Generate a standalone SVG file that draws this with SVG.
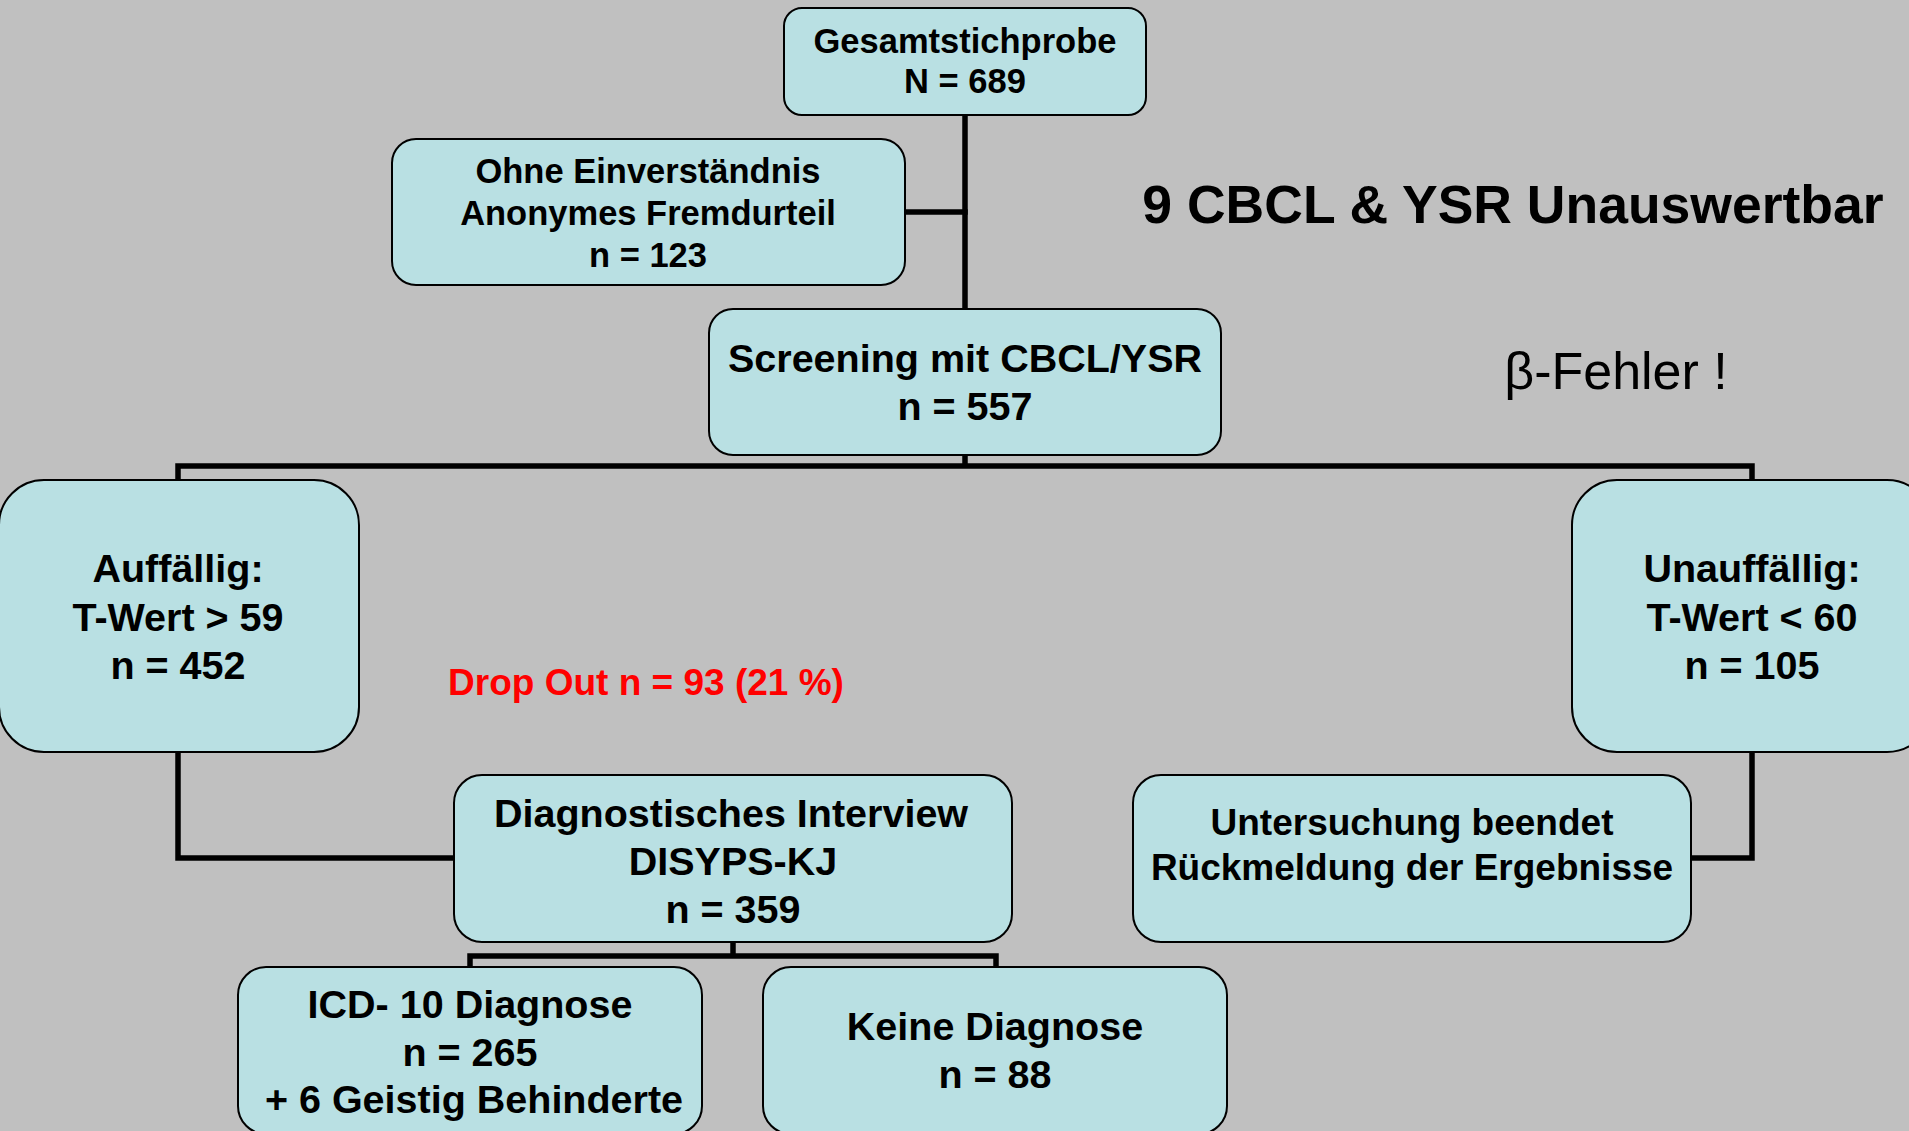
<svg xmlns="http://www.w3.org/2000/svg" width="1909" height="1131" viewBox="0 0 1909 1131">
<style>
.box{fill:#B9E0E3;stroke:#000;stroke-width:2}
.t{font-family:"Liberation Sans",Arial,sans-serif;font-weight:bold;fill:#000;text-anchor:middle}
.c{stroke:#000;stroke-width:5.5;fill:none;stroke-linecap:square}
</style>
<rect x="0" y="0" width="1909" height="1131" fill="#C0C0C0"/>
<g id="connectors">
<path class="c" d="M965,116 V309"/>
<path class="c" d="M905,212 H965"/>
<path class="c" d="M965,455 V466 M178,480 V466 H1752 V480"/>
<path class="c" d="M178,752 V858 H454"/>
<path class="c" d="M1752,752 V858 H1691"/>
<path class="c" d="M733,942 V956 M470,967 V956 H996 V967"/>
</g>
<g id="gesamt">
<rect class="box" x="784" y="8" width="362" height="107" rx="18"/>
<text class="t" x="965" y="53" font-size="34.5">Gesamtstichprobe</text>
<text class="t" x="965" y="93" font-size="34.5">N = 689</text>
</g>
<g id="ohne">
<rect class="box" x="392" y="139" width="513" height="146" rx="24"/>
<text class="t" x="648" y="183" font-size="34.5">Ohne Einverständnis</text>
<text class="t" x="648" y="225" font-size="34.5">Anonymes Fremdurteil</text>
<text class="t" x="648" y="267" font-size="34.5">n = 123</text>
</g>
<g id="screening">
<rect class="box" x="709" y="309" width="512" height="146" rx="24"/>
<text class="t" x="965" y="372" font-size="39.5">Screening mit CBCL/YSR</text>
<text class="t" x="965" y="420" font-size="39.5">n = 557</text>
</g>
<g id="auffaellig">
<rect class="box" x="-1" y="480" width="360" height="272" rx="45"/>
<text class="t" x="178" y="582" font-size="39.5">Auffällig:</text>
<text class="t" x="178" y="631" font-size="39.5">T-Wert &gt; 59</text>
<text class="t" x="178" y="679" font-size="39.5">n = 452</text>
</g>
<g id="unauffaellig">
<rect class="box" x="1572" y="480" width="360" height="272" rx="45"/>
<text class="t" x="1752" y="582" font-size="39.5">Unauffällig:</text>
<text class="t" x="1752" y="631" font-size="39.5">T-Wert &lt; 60</text>
<text class="t" x="1752" y="679" font-size="39.5">n = 105</text>
</g>
<g id="dropout">
<text class="t" x="646" y="695" font-size="37" style="fill:#FF0000">Drop Out n = 93 (21 %)</text>
</g>
<g id="interview">
<rect class="box" x="454" y="775" width="558" height="167" rx="28"/>
<text class="t" x="731" y="827" font-size="39.5">Diagnostisches Interview</text>
<text class="t" x="733" y="875" font-size="39.5">DISYPS-KJ</text>
<text class="t" x="733" y="923" font-size="39.5">n = 359</text>
</g>
<g id="untersuchung">
<rect class="box" x="1133" y="775" width="558" height="167" rx="28"/>
<text class="t" x="1412" y="835" font-size="37">Untersuchung beendet</text>
<text class="t" x="1412" y="880" font-size="37">Rückmeldung der Ergebnisse</text>
</g>
<g id="icd">
<rect class="box" x="238" y="967" width="464" height="167" rx="28"/>
<text class="t" x="470" y="1018" font-size="39.5">ICD- 10 Diagnose</text>
<text class="t" x="470" y="1066" font-size="39.5">n = 265</text>
<text class="t" x="474" y="1113" font-size="39.5">+ 6 Geistig Behinderte</text>
</g>
<g id="keine">
<rect class="box" x="763" y="967" width="464" height="167" rx="28"/>
<text class="t" x="995" y="1040" font-size="39.5">Keine Diagnose</text>
<text class="t" x="995" y="1088" font-size="39.5">n = 88</text>
</g>
<g id="unauswertbar">
<text class="t" x="1513" y="223" font-size="53.5">9 CBCL &amp; YSR Unauswertbar</text>
</g>
<g id="betafehler">
<text x="1616" y="389" font-size="52" text-anchor="middle" font-family="Liberation Sans, Arial, sans-serif" fill="#000">β-Fehler !</text>
</g>
</svg>
